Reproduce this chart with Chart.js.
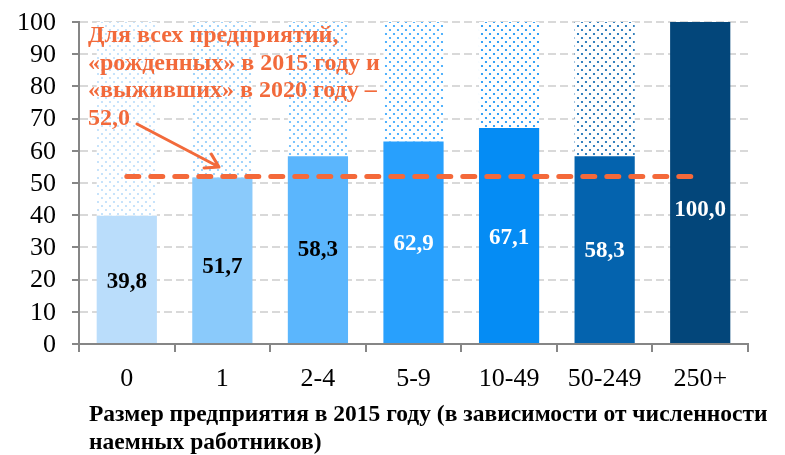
<!DOCTYPE html>
<html lang="ru">
<head>
<meta charset="utf-8">
<title>Доля выживших предприятий</title>
<script src="https://cdn.jsdelivr.net/npm/chart.js@4/dist/chart.umd.min.js"></script>
<style>
  html, body { margin: 0; padding: 0; background: #fff; }
  #wrap { width: 785px; height: 455px; }
</style>
</head>
<body>
<div id="wrap"><canvas id="chart"></canvas></div>
<script>
// ── Datos ────────────────────────────────────────────────────────────────
const categories   = ["0", "1", "2-4", "5-9", "10-49", "50-249", "250+"];
const survivalRate = [39.8, 51.7, 58.3, 62.9, 67.1, 58.3, 100.0];
const averageAll   = 52.0;
const yMax         = 100;
const yStep        = 10;

const barColors   = ["#BADDFB", "#8ACAFB", "#5BB6FD", "#28A0FD", "#058CF4", "#0463AE", "#03467A"];
const labelColors = ["#000", "#000", "#000", "#fff", "#fff", "#fff", "#fff"];

const noteLines = [
  "Для всех предприятий,",
  "«рожденных» в 2015 году и",
  "«выживших» в 2020 году –",
  "52,0",
];
const axisTitleLines = [
  "Размер предприятия в 2015 году (в зависимости от численности",
  "наемных работников)",
];

// ── Helpers ──────────────────────────────────────────────────────────────
const SERIF  = "'Liberation Serif', 'Times New Roman', serif";
const ORANGE = "#F26A3B";
const fmt = (v) => v.toFixed(1).replace(".", ",");

Chart.defaults.font.family = SERIF;

const dotPattern = (color) => {
  const c = document.createElement("canvas");
  c.width = 8;
  c.height = 8;
  const ctx = c.getContext("2d");
  ctx.fillStyle = "#fff";
  ctx.fillRect(0, 0, 8, 8);
  ctx.fillStyle = color;
  [[2, 2], [6, 6]].forEach(([x, y]) => {
    ctx.beginPath();
    ctx.arc(x, y, 1.1, 0, Math.PI * 2);
    ctx.fill();
  });
  return c.getContext("2d").createPattern(c, "repeat");
};

// ── Plugins ──────────────────────────────────────────────────────────────
const barLabels = {
  id: "barLabels",
  afterDatasetsDraw(chart, _args, opts) {
    const { ctx } = chart;
    const meta = chart.getDatasetMeta(0);
    ctx.save();
    ctx.font = `bold 23px ${SERIF}`;
    ctx.textAlign = "center";
    ctx.textBaseline = "middle";
    meta.data.forEach((bar, i) => {
      const y = bar.base + (bar.y - bar.base) * opts.at[i];
      ctx.fillStyle = labelColors[i];
      ctx.fillText(fmt(survivalRate[i]), bar.x, y);
    });
    ctx.restore();
  },
};

// etiquetas del eje y (serif, a la izquierda de las marcas)
const yLabels = {
  id: "yLabels",
  afterDraw(chart) {
    const { ctx } = chart;
    const sy = chart.scales.y;
    ctx.save();
    ctx.font = `26px ${SERIF}`;
    ctx.fillStyle = "#000";
    ctx.textAlign = "right";
    ctx.textBaseline = "middle";
    sy.ticks.forEach((t) => {
      ctx.fillText(String(t.value), sy.right - 23, sy.getPixelForValue(t.value) + 1);
    });
    ctx.restore();
  },
};

const notes = {
  id: "notes",
  afterDraw(chart) {
    const { ctx } = chart;
    ctx.save();
    // anotacion naranja
    ctx.font = `bold 24px ${SERIF}`;
    ctx.fillStyle = ORANGE;
    ctx.textAlign = "left";
    ctx.textBaseline = "middle";
    noteLines.forEach((t, i) => ctx.fillText(t, 88, 36 + i * 27.5));

    // flecha
    const x1 = 137, y1 = 124, x2 = 219, y2 = 167;
    const ang = Math.atan2(y2 - y1, x2 - x1);
    ctx.strokeStyle = ORANGE;
    ctx.lineWidth = 3;
    ctx.lineCap = "round";
    ctx.lineJoin = "round";
    ctx.beginPath();
    ctx.moveTo(x1, y1);
    ctx.lineTo(x2, y2);
    ctx.moveTo(x2 - 15 * Math.cos(ang - 0.55), y2 - 15 * Math.sin(ang - 0.55));
    ctx.lineTo(x2, y2);
    ctx.lineTo(x2 - 15 * Math.cos(ang + 0.55), y2 - 15 * Math.sin(ang + 0.55));
    ctx.stroke();

    // titulo del eje x
    ctx.font = `bold 23.5px ${SERIF}`;
    ctx.fillStyle = "#000";
    axisTitleLines.forEach((t, i) => ctx.fillText(t, 89, 415 + i * 28));
    ctx.restore();
  },
};

// ── Grafica ──────────────────────────────────────────────────────────────
new Chart(document.getElementById("chart"), {
  data: {
    labels: categories,
    datasets: [
      {
        type: "bar",
        data: survivalRate,
        backgroundColor: barColors,
        stack: "s",
        order: 2,
      },
      {
        type: "bar",
        data: survivalRate.map((v) => yMax - v),
        backgroundColor: barColors.map(dotPattern),
        stack: "s",
        order: 2,
      },
      {
        type: "line",
        data: categories.map(() => averageAll),
        borderColor: "#F4693A",
        borderWidth: 5,
        borderDash: [12, 12],
        borderCapStyle: "round",
        pointRadius: 0,
        stack: "avg",
        order: 1,
      },
    ],
  },
  options: {
    responsive: true,
    maintainAspectRatio: false,
    animation: false,
    datasets: { bar: { barPercentage: 0.63, categoryPercentage: 1, borderWidth: 0 } },
    layout: { padding: { top: 22, right: 37, left: 0, bottom: 0 } },
    plugins: {
      legend: { display: false },
      tooltip: { enabled: false },
      barLabels: { at: [0.48, 0.46, 0.5, 0.49, 0.49, 0.49, 0.415] },
    },
    scales: {
      x: {
        stacked: true,
        grid: {
          drawOnChartArea: false,
          offset: true,
          color: "#868686",
          lineWidth: 2,
          tickLength: 8,
        },
        border: { color: "#868686", width: 2 },
        ticks: {
          color: "#000",
          font: { family: SERIF, size: 26 },
          padding: 12,
          autoSkip: false,
          maxRotation: 0,
        },
        afterFit: (s) => { s.height = 111; },
      },
      y: {
        stacked: true,
        min: 0,
        max: yMax,
        grid: {
          color: "#D9D9D9",
          lineWidth: 2,
          tickColor: "#868686",
          tickLength: 7,
          tickBorderDash: [],
        },
        border: { color: "#868686", width: 2, dash: [8, 4] },
        ticks: {
          stepSize: yStep,
          autoSkip: false,
          color: "rgba(0,0,0,0)",
          font: { family: SERIF, size: 10 },
          padding: 4,
        },
        afterFit: (s) => { s.width = 79; },
      },
    },
  },
  plugins: [barLabels, yLabels, notes],
});
</script>
</body>
</html>
